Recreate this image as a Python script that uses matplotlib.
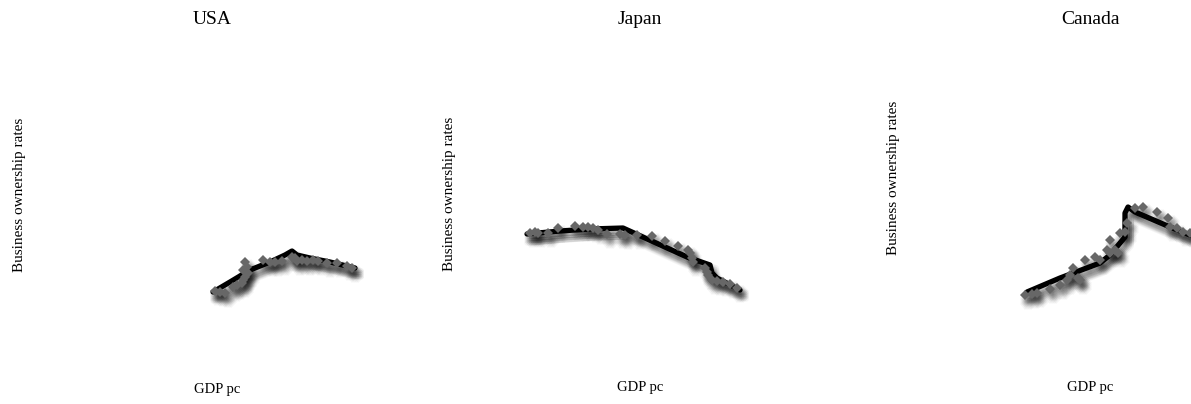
import matplotlib
matplotlib.use("Agg")
import matplotlib.pyplot as plt
import matplotlib.patheffects as pe

plt.rcParams['font.family'] = ['Liberation Serif', 'DejaVu Serif']

# GDP per capita (thousand $) and business ownership rate (%) per country
usa_gdp = [15.0, 16.0, 17.0, 18.6, 19.4, 20.4, 20.6, 21.0, 20.6, 21.4, 21.0, 21.6, 24.6, 26.0,
           27.0, 28.4, 30.4, 31.0, 31.4, 32.4, 33.4, 34.6, 35.6, 37.4, 39.4, 41.4, 42.4]
usa_rate = [5.9, 5.8, 5.7, 6.3, 6.5, 6.7, 7.0, 7.3, 8.0, 8.3, 8.8, 7.7, 9.0, 8.8,
            8.8, 8.9, 9.3, 9.2, 8.9, 9.0, 8.9, 9.0, 8.9, 8.7, 8.7, 8.4, 8.2]
usa_fit_gdp = [14.6, 18.0, 22.0, 26.0, 29.0, 30.4, 31.4, 34.0, 38.0, 43.0]
usa_fit_rate = [5.8, 6.8, 8.0, 8.8, 9.5, 9.9, 9.5, 9.2, 8.8, 8.2]

jpn_gdp = [8.0, 9.0, 9.6, 11.6, 13.6, 17.0, 18.6, 19.6, 20.6, 21.6, 23.4, 26.0, 27.0, 29.4, 32.4,
           35.0, 37.6, 39.6, 40.0, 40.4, 40.6, 43.0, 43.4, 43.6, 44.4, 45.4, 46.6, 48.0, 49.4]
jpn_rate = [9.7, 9.8, 9.7, 9.7, 10.2, 10.4, 10.3, 10.3, 10.2, 10.0, 9.6, 9.6, 9.5, 9.5, 9.4,
            8.9, 8.4, 8.0, 7.7, 7.2, 6.8, 6.2, 5.8, 5.5, 5.0, 4.9, 4.8, 4.6, 4.2]
jpn_fit_gdp = [7.4, 14.0, 20.0, 26.6, 39.4, 44.0, 44.4, 45.4, 50.0]
jpn_fit_rate = [9.6, 9.9, 10.1, 10.2, 7.3, 6.5, 5.7, 5.2, 4.0]

can_gdp = [5.0, 6.4, 7.4, 10.0, 12.0, 13.4, 14.0, 14.6, 15.6, 16.0, 17.0, 19.0, 20.0, 21.4, 22.0,
           22.0, 23.0, 23.6, 24.0, 25.0, 25.4, 27.0, 28.6, 31.4, 33.6, 34.0, 35.4, 36.6, 38.0]
can_rate = [3.5, 3.6, 3.7, 4.1, 4.5, 5.0, 5.5, 6.2, 5.2, 5.0, 7.0, 7.3, 7.0, 8.0, 9.0,
            7.7, 8.0, 7.7, 9.7, 9.8, 10.7, 12.2, 12.3, 11.8, 11.2, 10.3, 10.2, 9.8, 9.7]
can_fit_gdp = [5.4, 12.0, 20.0, 22.0, 25.0, 25.0, 25.6, 27.0, 34.0, 40.0]
can_fit_rate = [3.8, 5.2, 6.7, 7.5, 9.3, 11.7, 12.3, 11.8, 10.3, 9.1]

W, H = 1191, 404
fig = plt.figure(figsize=(W / 100, H / 100), dpi=100)


def soft_shadow(kind, alpha=0.045):
    # stack of faint offset copies to fake a blurred drop shadow
    effects = []
    for dx in (0.0, 1.5, 3.0, 4.5):
        for dy in (-2.0, -3.5, -5.0, -6.5):
            if kind == 'line':
                effects.append(pe.SimpleLineShadow(offset=(dx, dy), shadow_color='k', alpha=alpha))
            else:
                effects.append(pe.SimplePatchShadow(offset=(dx, dy), shadow_rgbFace='k', alpha=alpha))
    effects.append(pe.Normal())
    return effects


def panel(x0, y0, gdp, rate, fit_gdp, fit_rate):
    # axes placed in pixels: 5 px per GDP unit, 10 px per rate unit
    xmax, ymax = 60, 30
    ax = fig.add_axes([x0 / W, (H - y0) / H, xmax * 5 / W, ymax * 10 / H])
    ax.set_xlim(0, xmax)
    ax.set_ylim(0, ymax)
    ax.axis('off')
    ax.plot(fit_gdp, fit_rate, color='black', lw=3.8, solid_capstyle='round',
            solid_joinstyle='round', path_effects=soft_shadow('line'), zorder=2)
    ax.plot(gdp, rate, ls='none', marker='D', ms=5.6, color='#676767', mew=0,
            path_effects=soft_shadow('patch'), zorder=3)
    return ax


panel(140, 350, usa_gdp, usa_rate, usa_fit_gdp, usa_fit_rate)
panel(490, 330, jpn_gdp, jpn_rate, jpn_fit_gdp, jpn_fit_rate)
panel(1000, 330, can_gdp, can_rate, can_fit_gdp, can_fit_rate)

for name, tx, ylx, yly, xlx, xly in [('USA', 212, 20, 195, 217, 390),
                                     ('Japan', 640, 450, 194, 640, 388),
                                     ('Canada', 1090, 893, 178, 1090, 387)]:
    fig.text(tx / W, 1 - 20 / H, name, ha='center', va='center', fontsize=14)
    fig.text(ylx / W, 1 - yly / H, 'Business ownership rates', rotation=90,
             ha='center', va='center', fontsize=11)
    fig.text(xlx / W, 1 - xly / H, 'GDP pc', ha='center', va='center', fontsize=10.5)

fig.savefig('out.png', dpi=100)
